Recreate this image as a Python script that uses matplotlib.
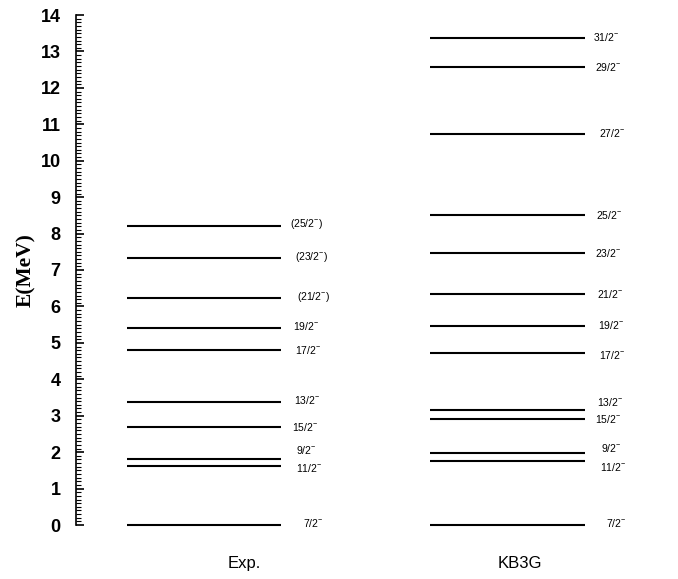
import matplotlib
matplotlib.use("Agg")
import matplotlib.pyplot as plt
from matplotlib.ticker import MultipleLocator

plt.rcParams['mathtext.default'] = 'regular'

# Data
exp_spins = ["7/2", "11/2", "9/2", "15/2", "13/2", "17/2", "19/2", "(21/2", "(23/2", "(25/2"]
exp_energy = [0.0, 1.62, 1.82, 2.70, 3.38, 4.81, 5.42, 6.24, 7.32, 8.20]
kb3g_spins = ["7/2", "11/2", "9/2", "15/2", "13/2", "17/2", "19/2", "21/2", "23/2", "25/2", "27/2", "29/2", "31/2"]
kb3g_energy = [0.0, 1.76, 1.98, 2.92, 3.16, 4.73, 5.47, 6.33, 7.48, 8.50, 10.73, 12.57, 13.37]
columns = ["Exp.", "KB3G"]
y_ticks = list(range(0, 15))

# Layout (label offsets in MeV / horizontal units)
exp_dy = [0.05, -0.05, 0.25, 0.0, 0.05, 0.0, 0.03, 0.03, 0.03, 0.05]
exp_dx = [22, 15, 15, 11, 13, 14, 12, 16, 14, 9]
kb_dy = [0.05, -0.16, 0.14, 0.0, 0.22, -0.05, 0.03, 0.0, 0.0, 0.0, 0.03, 0.0, 0.03]
kb_dx = [21, 15, 16, 10, 12, 14, 13, 12, 10, 11, 14, 10, 8]

fig = plt.figure(figsize=(6.78, 5.79), dpi=100)
L = 76
ax = fig.add_axes([L/678, 54/579, (678-L)/678, 510/579])
ax.set_xlim(L - 78, 600)
ax.set_ylim(0, 14)

exp_x = (49, 203)
kb_x = (352, 507)

ax.hlines(exp_energy, exp_x[0], exp_x[1], color='black', lw=1.5, clip_on=False)
ax.hlines(kb3g_energy, kb_x[0], kb_x[1], color='black', lw=1.5, clip_on=False)

def lab(s):
    if s.startswith('('):
        return s + r"$^{-}$)"
    return s + r"$^{-}$"

for s, e, dy, dx in zip(exp_spins, exp_energy, exp_dy, exp_dx):
    ax.text(exp_x[1] + dx, e + dy, lab(s), fontsize=7.5, family='Liberation Sans',
            va='center', ha='left')
for s, e, dy, dx in zip(kb3g_spins, kb3g_energy, kb_dy, kb_dx):
    ax.text(kb_x[1] + dx, e + dy, lab(s), fontsize=7.5, family='Liberation Sans',
            va='center', ha='left')

for sp in ['top', 'right', 'bottom']:
    ax.spines[sp].set_visible(False)
ax.spines['left'].set_linewidth(1.2)

ax.set_yticks(y_ticks)
ax.set_yticklabels([str(t) for t in y_ticks], fontsize=13, family='Liberation Sans', fontweight='bold')
ax.yaxis.set_minor_locator(MultipleLocator(0.1))
ax.tick_params(axis='y', which='major', direction='in', length=6, width=1.2, pad=11)
ax.tick_params(axis='y', which='minor', direction='in', length=3.5, width=0.8)

ax.set_xticks([166, 442])
ax.set_xticklabels(columns, fontsize=12, family='Liberation Sans')
ax.tick_params(axis='x', length=0, pad=22)

ax.set_ylabel("E(MeV)", fontsize=15.5, family='Liberation Serif', fontweight='bold', labelpad=3)

fig.savefig("out.png", dpi=100)
